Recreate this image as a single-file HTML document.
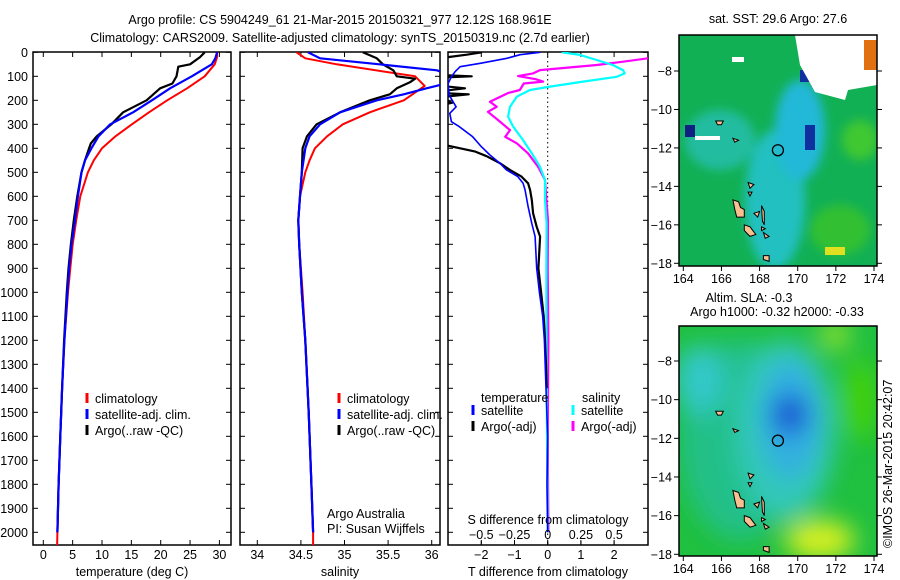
<!DOCTYPE html>
<html><head><meta charset="utf-8">
<style>
html,body{margin:0;padding:0;background:#fff;}
svg{display:block;font-family:"Liberation Sans",sans-serif;}
text{font-size:12.5px;fill:#000;}
</style></head>
<body>
<svg id="fig" width="900" height="580" viewBox="0 0 900 580">
<defs>
<clipPath id="c1"><rect x="33" y="52" width="198" height="493"/></clipPath>
<clipPath id="c2"><rect x="240" y="52" width="200" height="493"/></clipPath>
<clipPath id="c3"><rect x="448" y="52" width="200" height="493"/></clipPath>
<clipPath id="cm1"><rect x="679" y="35" width="198" height="231"/></clipPath>
<clipPath id="cm2"><rect x="679" y="326" width="198" height="230"/></clipPath>
<filter id="bl" x="-50%" y="-50%" width="200%" height="200%"><feGaussianBlur stdDeviation="12"/></filter>
<filter id="bl2" x="-50%" y="-50%" width="200%" height="200%"><feGaussianBlur stdDeviation="5"/></filter>
</defs>
<text x="340" y="24" text-anchor="middle">Argo profile: CS 5904249_61 21-Mar-2015 20150321_977 12.12S 168.961E</text>
<text x="340" y="42" text-anchor="middle">Climatology: CARS2009. Satellite-adjusted climatology: synTS_20150319.nc (2.7d earlier)</text>
<g id="p1"></g>
<g id="p2"></g>
<g id="p3"></g>
<g id="m1"></g>
<g id="m2"></g>
<text x="892" y="548" transform="rotate(-90 892 548)">©IMOS 26-Mar-2015 20:42:07</text>
</svg>
<script>
// ---- data ----
const depthClim = [0,20,50,100,150,200,250,300,350,400,450,500,600,700,800,900,1000,1200,1400,1600,1800,2000,2060];
const tempClim  = [29.6,29.6,29.2,27.5,24.5,21.1,18.0,15.1,12.3,10.0,8.6,7.6,6.3,5.6,5.0,4.6,4.2,3.6,3.2,2.9,2.6,2.4,2.35];
const depthSat = [0,25,50,100,150,200,250,300,350,400,450,500,600,700,800,900,1000,1200,1400,1600,1800,2000];
const tempSat  = [29.6,29.3,28.7,25.3,21.6,18.5,15.3,11.4,9.4,8.2,7.1,6.5,5.9,5.4,4.8,4.4,4.1,3.6,3.2,2.9,2.6,2.4];
const depthArgo = [0,20,50,60,100,130,150,200,250,300,350,380,400,450,500,600,700,800,900,1000,1200,1400,1600,1800,2000];
const tempArgo  = [27.5,26.7,25.0,23.0,22.7,22.0,19.9,17.6,13.6,11.6,9.1,8.1,7.8,7.1,6.5,5.8,5.2,4.7,4.3,4.0,3.55,3.2,2.9,2.6,2.4];
const salClim = [34.45,34.55,34.91,35.81,35.92,35.68,35.29,34.98,34.80,34.66,34.60,34.55,34.49,34.47,34.48,34.50,34.52,34.55,34.59,34.62,34.64,34.64];
const depthSalClim = [0,25,50,100,140,200,250,300,350,400,450,500,600,700,800,900,1000,1200,1500,1800,2000,2060];
const depthSalSat = [0,25,50,75,100,134,150,175,200,250,300,350,400,500,600,700,800,1000,1200,1500,1800,2000];
const salSat  = [34.58,34.72,35.40,36.06,36.25,36.12,35.94,35.68,35.37,34.95,34.72,34.60,34.55,34.51,34.49,34.47,34.48,34.51,34.55,34.59,34.62,34.64];
const depthSalArgo = [0,25,50,75,100,110,125,150,175,200,250,300,350,400,500,600,700,800,1000,1200,1500,1800,2000];
const salArgo  = [35.21,35.37,35.44,35.56,35.60,35.81,35.75,35.60,35.52,35.29,34.95,34.68,34.57,34.52,34.51,34.49,34.47,34.48,34.51,34.55,34.59,34.62,34.64];
const depthDT = [0,10,25,46,60,81,102,130,178,227,254,289,310,352,393,428,462,490,518,546,574,643,713,768,900,1000,1100,1200,1400,1600,1800,2000];
const dTSat   = [-0.23,-0.83,-1.23,-2.03,-2.64,-2.79,-2.9,-3.0,-2.97,-2.76,-2.95,-2.9,-2.66,-2.26,-2.0,-1.74,-1.44,-1.24,-0.9,-0.74,-0.68,-0.59,-0.48,-0.38,-0.33,-0.25,-0.15,-0.1,-0.05,0,-0.02,0];
const depthDTArgo = [0,10,20,40,95,100,105,140,150,160,170,175,185,205,210,220,380,390,413,433,462,490,518,546,574,615,671,727,768,900,1000,1100,1200,1300,1400];
const dTArgo     = [-1.98,-2.44,-3.0,-3.2,-3.2,-2.29,-3.2,-3.2,-2.49,-3.1,-3.2,-2.38,-3.1,-3.0,-2.87,-3.2,-3.2,-2.97,-2.2,-1.84,-1.44,-1.14,-0.79,-0.59,-0.53,-0.48,-0.44,-0.33,-0.23,-0.28,-0.2,-0.12,-0.08,-0.05,-0.03];
const depthDS = [0,11,32,53,74,88,102,122,143,157,185,227,268,310,366,421,477,532,615,713,900,1200,1600,2000];
const dSSat   = [0.105,0.243,0.369,0.49,0.567,0.58,0.52,0.266,0.017,-0.133,-0.233,-0.284,-0.298,-0.26,-0.185,-0.12,-0.058,-0.02,-0.02,-0.008,-0.01,-0.01,-0.005,0];
const depthDSArgo = [0,15,25,39,53,74,88,99,112,122,130,157,170,206,227,248,282,324,352,379,421,477,532,615,700,900,1200,1600,2000];
const dSArgo      = [0.9,0.85,0.755,0.567,0.369,-0.058,-0.11,-0.223,-0.09,-0.035,-0.18,-0.21,-0.3,-0.435,-0.384,-0.45,-0.374,-0.284,-0.32,-0.233,-0.148,-0.072,-0.02,-0.01,0.002,0,0.005,0,0.005];
const depthTicks = [0,100,200,300,400,500,600,700,800,900,1000,1100,1200,1300,1400,1500,1600,1700,1800,1900,2000];
const tempTicks = [0,5,10,15,20,25,30];
const salTicks = [34,34.5,35,35.5,36];
const salTickLabels = ["34","34.5","35","35.5","36"];
const dTTicks = [-2,-1,0,1,2];
const dSTicks = [-0.5,-0.25,0,0.25,0.5];
const dSTickLabels = ["−0.5","−0.25","0","0.25","0.5"];
const lonTicks = [164,166,168,170,172,174];
const latTicks = [-8,-10,-12,-14,-16,-18];
const argoLon = 168.961, argoLat = -12.12;

// ---- helpers ----
const NS="http://www.w3.org/2000/svg";
function mk(tag, attrs, parent){const e=document.createElementNS(NS,tag);for(const k in attrs)e.setAttribute(k,attrs[k]);parent.appendChild(e);return e;}
const yD = d => 52.3 + 0.24*d;
const xT = t => 43.3 + 5.87*t;
const xS = s => 257.3 + 87.2*(s-34);
const xDT = t => 547.7 + 33.2*t;
const xDS = s => 547.7 + 132.8*s;

function panel(g, x0, x1, y0, y1){
  const r = mk('rect',{x:x0,y:y0,width:x1-x0,height:y1-y0,fill:'none',stroke:'#000','stroke-width':1.5},g);
  
  
  depthTicks.forEach(d=>{
    const t1=mk('line',{x1:x0,x2:x0+5,y1:yD(d),y2:yD(d),stroke:'#000'},g);
    
    
    const t2=mk('line',{x1:x1-5,x2:x1,y1:yD(d),y2:yD(d),stroke:'#000'},g);
    
    
  });
}
function series(g, clip, depths, vals, xf, color, w){
  const p = depths.map((d,i)=>xf(vals[i]).toFixed(1)+','+yD(d).toFixed(1)).join(' ');
  const pl = mk('polyline',{points:p,fill:'none',stroke:color,'stroke-width':w,'clip-path':'url(#'+clip+')','stroke-linejoin':'round'},g);
  
  
}
function txt(g, x, y, s, anchor){
  const t = mk('text',{x:x,y:y,'text-anchor':anchor||'start'},g);
  t.textContent = s;
  
  
  return t;
}
function legend(g, x, y, color, s){
  const l=mk('line',{x1:x,x2:x,y1:y-10,y2:y,stroke:color,'stroke-width':3},g);
  
  
  txt(g, x+8, y, s);
}

// ---- panel 1 ----
const p1 = document.getElementById('p1');
panel(p1, 33, 231, 52, 545);
depthTicks.forEach(d=>{ const t=txt(p1, 28, yD(d)+4.5, String(d), 'end');  });
tempTicks.forEach(t=>{
  const a=mk('line',{x1:xT(t),x2:xT(t),y1:52,y2:57,stroke:'#000'},p1);
   
  const b=mk('line',{x1:xT(t),x2:xT(t),y1:540,y2:545,stroke:'#000'},p1);
   
  txt(p1, xT(t), 559, String(t), 'middle');
});
txt(p1, 132, 576, 'temperature (deg C)', 'middle');
series(p1,'c1',depthClim,tempClim,xT,'#f00',2);
series(p1,'c1',depthArgo,tempArgo,xT,'#000',2.2);
series(p1,'c1',depthSat,tempSat,xT,'#00f',2.2);
legend(p1, 87, 403, '#f00', 'climatology');
legend(p1, 87, 419, '#00f', 'satellite-adj. clim.');
legend(p1, 87, 435, '#000', 'Argo(..raw -QC)');

// ---- panel 2 ----
const p2 = document.getElementById('p2');
panel(p2, 240, 440, 52, 545);
salTicks.forEach((s,i)=>{
  const a=mk('line',{x1:xS(s),x2:xS(s),y1:52,y2:57,stroke:'#000'},p2);
   
  const b=mk('line',{x1:xS(s),x2:xS(s),y1:540,y2:545,stroke:'#000'},p2);
   
  txt(p2, xS(s), 559, salTickLabels[i], 'middle');
});
txt(p2, 340, 576, 'salinity', 'middle');
series(p2,'c2',depthSalClim,salClim,xS,'#f00',2);
series(p2,'c2',depthSalArgo,salArgo,xS,'#000',2.2);
series(p2,'c2',depthSalSat,salSat,xS,'#00f',2.2);
legend(p2, 339, 403, '#f00', 'climatology');
legend(p2, 339, 419, '#00f', 'satellite-adj. clim.');
legend(p2, 339, 435, '#000', 'Argo(..raw -QC)');
txt(p2, 327, 518, 'Argo Australia');
txt(p2, 327, 533, 'PI: Susan Wijffels');

// ---- panel 3 ----
const p3 = document.getElementById('p3');
panel(p3, 448, 648, 52, 545);
const dz=mk('line',{x1:xDT(0),x2:xDT(0),y1:52,y2:545,stroke:'#000','stroke-dasharray':'1.5,3'},p3);
 
dTTicks.forEach(t=>{
  const a=mk('line',{x1:xDT(t),x2:xDT(t),y1:52,y2:57,stroke:'#000'},p3);
   
  const b=mk('line',{x1:xDT(t),x2:xDT(t),y1:540,y2:545,stroke:'#000'},p3);
   
  txt(p3, xDT(t), 559, t<0?'−'+Math.abs(t):String(t), 'middle');
});
txt(p3, 548, 576, 'T difference from climatology', 'middle');
series(p3,'c3',depthDSArgo,dSArgo,xDS,'#f0f',2.2);
series(p3,'c3',depthDS,dSSat,xDS,'#0ff',2.2);
series(p3,'c3',depthDTArgo,dTArgo,xDT,'#000',2.2);
series(p3,'c3',depthDT,dTSat,xDT,'#00f',1.6);
dSTicks.forEach((s,i)=>{
  const a=mk('line',{x1:xDS(s),x2:xDS(s),y1:541,y2:545,stroke:'#000'},p3);
   
  txt(p3, xDS(s), 539, dSTickLabels[i], 'middle');
});
txt(p3, 548, 524, 'S difference from climatology', 'middle');
txt(p3, 481, 402, 'temperature');
txt(p3, 582, 402, 'salinity');
legend(p3, 473, 415, '#00f', 'satellite');
legend(p3, 473, 431, '#000', 'Argo(-adj)');
legend(p3, 573, 415, '#0ff', 'satellite');
legend(p3, 573, 431, '#f0f', 'Argo(-adj)');

// ---- maps ----
const lonX = l => 683.3 + 19.07*(l-164);
function latY1(la){ return 71 + 19.23*(-8-la); }
function latY2(la){ return 361 + 19.33*(-8-la); }
const islands = [
 [[166.6,-14.7],[166.9,-14.8],[167.0,-15.1],[167.2,-15.2],[167.2,-15.6],[166.8,-15.6],[166.7,-15.2]],
 [[167.2,-16.0],[167.5,-16.1],[167.8,-16.5],[167.5,-16.6],[167.2,-16.3]],
 [[168.2,-17.6],[168.5,-17.6],[168.5,-17.9],[168.2,-17.8]],
 [[167.7,-15.4],[168.0,-15.3],[167.9,-15.6]],
 [[168.1,-16.1],[168.3,-16.2],[168.1,-16.3]],
 [[167.4,-13.8],[167.7,-13.9],[167.5,-14.1]],
 [[167.4,-14.3],[167.6,-14.3],[167.5,-14.5]],
 [[165.7,-10.6],[166.1,-10.6],[166.0,-10.8],[165.8,-10.8]],
 [[166.6,-11.5],[166.9,-11.6],[166.7,-11.7]],
 [[168.1,-15.0],[168.25,-15.3],[168.25,-16.0],[168.15,-15.8]],
 [[168.2,-16.4],[168.5,-16.6],[168.3,-16.7]]
];
function map(g, yf, top, bottom, clip, bg){
  const bgG = mk('g',{'clip-path':'url(#'+clip+')'},g);
  bg(bgG);
  islands.forEach(pts=>{
    const p=mk('polygon',{points:pts.map(q=>lonX(q[0]).toFixed(1)+','+yf(q[1]).toFixed(1)).join(' '),fill:'#f8c090',stroke:'#000','stroke-width':1},bgG);
    
    
  });
  const c=mk('circle',{cx:lonX(argoLon),cy:yf(argoLat),r:5.5,fill:'none',stroke:'#000','stroke-width':1.3},g);
  
  
  const f=mk('rect',{x:679,y:top,width:198,height:bottom-top,fill:'none',stroke:'#000','stroke-width':1.5},g);
  
  
  lonTicks.forEach(l=>{
    const a=mk('line',{x1:lonX(l),x2:lonX(l),y1:bottom,y2:bottom+5,stroke:'#000'},g);
     
    txt(g, lonX(l), bottom+17, String(l), 'middle');
  });
  latTicks.forEach(la=>{
    const a=mk('line',{x1:674,x2:679,y1:yf(la),y2:yf(la),stroke:'#000'},g);
     
    const b=mk('line',{x1:877,x2:882,y1:yf(la),y2:yf(la),stroke:'#000'},g);
     
    txt(g, 672, yf(la)+4.5, la<0?'−'+Math.abs(la):String(la), 'end');
  });
}
const m1=document.getElementById('m1');
txt(m1, 778, 23, 'sat. SST: 29.6 Argo: 27.6', 'middle');
map(m1, latY1, 35, 266, 'cm1', g=>{
  mk('rect',{x:679,y:35,width:198,height:231,fill:'#12b055'},g);
  const gg=mk('g',{filter:'url(#bl2)'},g);
  mk('ellipse',{cx:775,cy:200,rx:30,ry:70,fill:'#20c0c0'},gg);
  mk('ellipse',{cx:800,cy:130,rx:25,ry:50,fill:'#20b8d8'},gg);
  mk('ellipse',{cx:720,cy:140,rx:35,ry:30,fill:'#20bca0'},gg);
  mk('ellipse',{cx:840,cy:230,rx:30,ry:25,fill:'#30c030'},gg);
  mk('ellipse',{cx:860,cy:140,rx:18,ry:20,fill:'#40c830'},gg);
  mk('rect',{x:805,y:125,width:10,height:25,fill:'#1030a0'},g);
  mk('rect',{x:685,y:125,width:10,height:12,fill:'#102080'},g);
  mk('rect',{x:800,y:70,width:12,height:12,fill:'#1030a0'},g);
  mk('polygon',{points:'795,35 877,35 877,85 848,90 845,100 815,92 800,65',fill:'#fff'},g);
  mk('rect',{x:732,y:57,width:12,height:5,fill:'#fff'},g);
  mk('rect',{x:695,y:136,width:25,height:4,fill:'#fff'},g);
  mk('rect',{x:864,y:40,width:13,height:30,fill:'#e07010'},g);
  mk('rect',{x:825,y:247,width:20,height:8,fill:'#e0e020'},g);
});
const m2=document.getElementById('m2');
txt(m2, 749, 302, 'Altim. SLA: -0.3', 'middle');
txt(m2, 777, 316, 'Argo h1000: -0.32 h2000: -0.33', 'middle');
map(m2, latY2, 326, 556, 'cm2', g=>{
  mk('rect',{x:679,y:326,width:198,height:230,fill:'#20c040'},g);
  const gg=mk('g',{filter:'url(#bl)'},g);
  mk('ellipse',{cx:740,cy:440,rx:60,ry:100,fill:'#20c088'},gg);
  mk('ellipse',{cx:785,cy:430,rx:50,ry:90,fill:'#30c8b8'},gg);
  mk('ellipse',{cx:700,cy:380,rx:25,ry:35,fill:'#30c8c8'},gg);
  mk('ellipse',{cx:790,cy:420,rx:30,ry:60,fill:'#30b0e0'},gg);
  mk('ellipse',{cx:790,cy:415,rx:20,ry:22,fill:'#2070e0'},gg);
  mk('ellipse',{cx:790,cy:413,rx:10,ry:12,fill:'#1040c0'},gg);
  mk('ellipse',{cx:820,cy:540,rx:35,ry:20,fill:'#d8f020'},gg);
  mk('ellipse',{cx:835,cy:335,rx:15,ry:15,fill:'#90e030'},gg);
  mk('ellipse',{cx:860,cy:400,rx:20,ry:40,fill:'#40d010'},gg);
});
</script>
</body></html>
